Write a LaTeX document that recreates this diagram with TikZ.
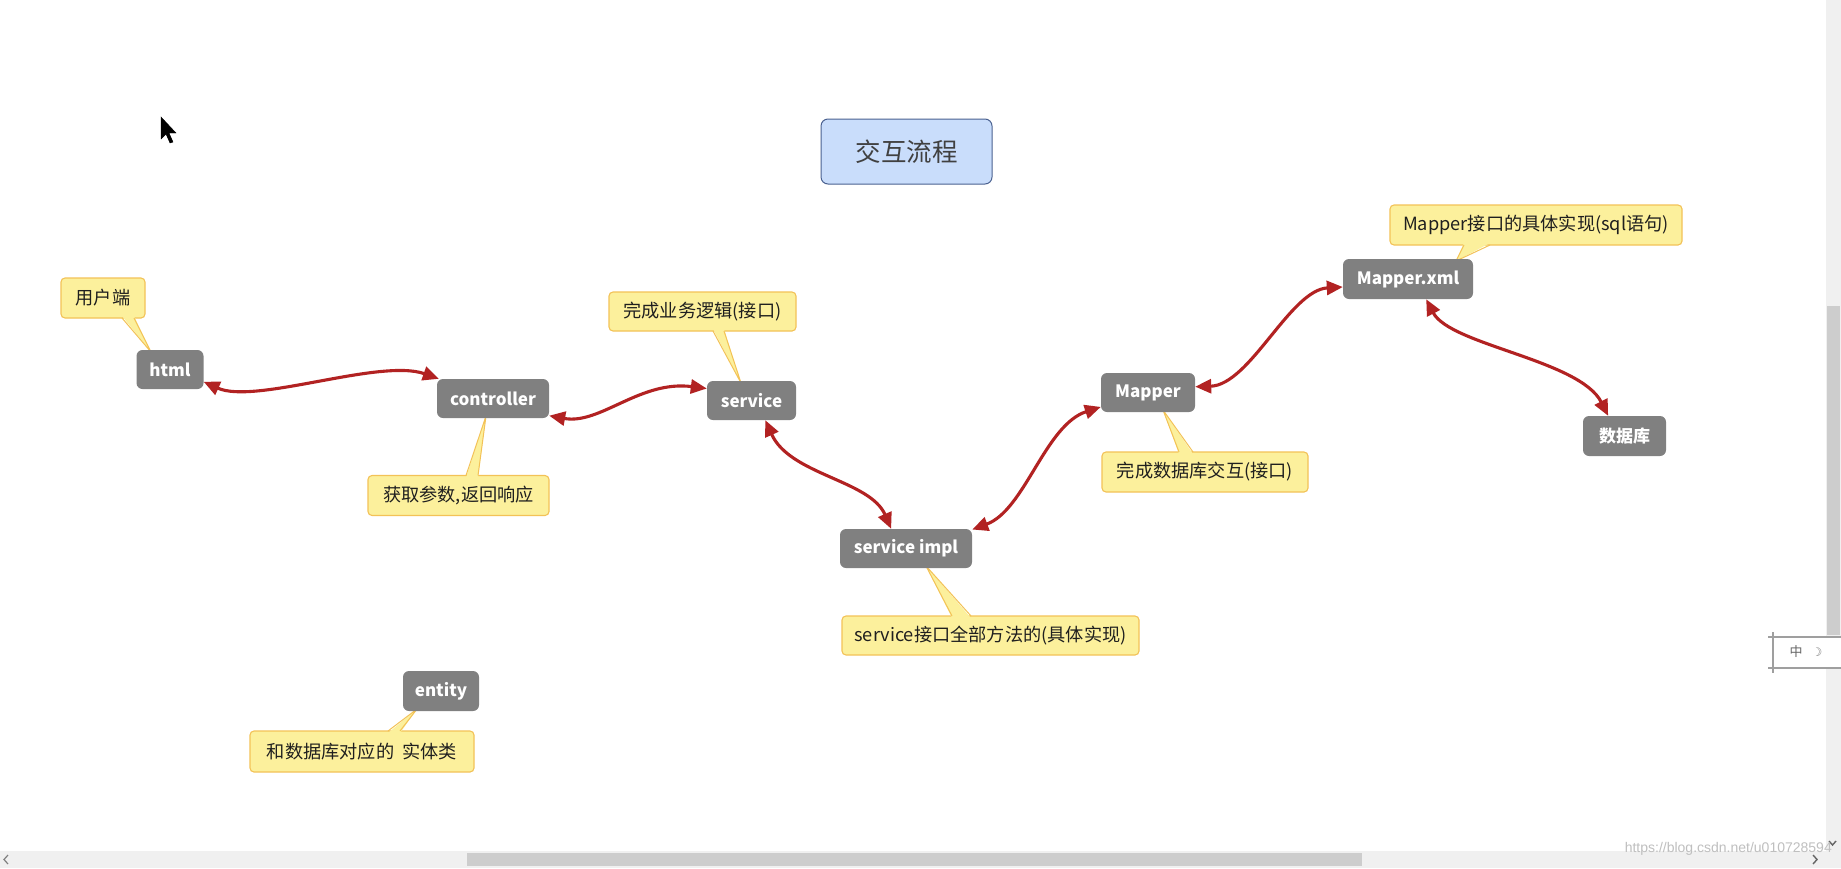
\documentclass[tikz,border=0pt]{standalone}
\usepackage{fontspec}
\setmainfont{Noto Sans CJK SC}
\newfontfamily\djv{DejaVu Sans}
\newfontfamily\libsans{Liberation Sans}
\usetikzlibrary{arrows.meta}
\definecolor{nodegray}{HTML}{808080}
\definecolor{calfill}{HTML}{FCF09C}
\definecolor{calborder}{HTML}{F3C257}
\definecolor{titlefill}{HTML}{C9DDFB}
\definecolor{titleborder}{HTML}{4A6190}
\definecolor{linkred}{HTML}{B22222}
\definecolor{track}{HTML}{F0F0F0}
\definecolor{thumb}{HTML}{CDCDCD}
\begin{document}
\begin{tikzpicture}[x=1pt,y=-1pt,
  gbox/.style={rectangle, rounded corners=6pt, fill=nodegray, text=white,
    font=\bfseries\fontsize{17}{20}\selectfont, minimum height=39pt, inner sep=0pt},
  callout/.style={rectangle, rounded corners=4pt, fill=calfill, draw=calborder,
    line width=1.1pt, minimum height=40pt, inner sep=0pt,
    font=\fontsize{18.2}{21}\selectfont, text=black!88},
  ptrline/.style={draw=calborder, line width=1pt},
  link/.style={draw=linkred, line width=3.1pt,
    {Triangle[length=16pt,width=14pt]}-{Triangle[length=16pt,width=14pt]}}
]
\useasboundingbox (0,0) rectangle (1841,868);
\fill[white] (0,0) rectangle (1841,868);

% title
\node[rectangle, rounded corners=7pt, fill=titlefill, draw=titleborder, line width=1pt,
  minimum width=171pt, minimum height=65pt, font=\fontsize{25.5}{29}\selectfont,
  text=black!75] (title) at (906.5,151.5) {交互流程};

% callouts
\node[callout, minimum width=84pt] (c1) at (103,298) {用户端};
\node[callout, minimum width=181pt] (c2) at (458.5,495.5) {获取参数,返回响应};
\node[callout, minimum width=187pt, minimum height=39pt] (c3) at (702.5,311.5) {完成业务逻辑(接口)};
\node[callout, minimum width=297pt, minimum height=39pt] (c4) at (990.5,635.5) {service接口全部方法的(具体实现)};
\node[callout, minimum width=206pt] (c5) at (1205,472) {完成数据库交互(接口)};
\node[callout, minimum width=292pt] (c6) at (1536,225) {Mapper接口的具体实现(sql语句)};
\node[callout, minimum width=224pt, minimum height=41pt] (c7) at (362,751.5) {和数据库对应的\ \ 实体类};

% callout pointers
\fill[calfill] (122,316) -- (151,352) -- (134,316) -- cycle;
\draw[ptrline] (122,318) -- (151,352) -- (134,318);
\fill[calfill] (466,477.5) -- (486,416) -- (478,477.5) -- cycle;
\draw[ptrline] (466,475.5) -- (486,416) -- (478,475.5);
\fill[calfill] (713,329) -- (741,383) -- (724,329) -- cycle;
\draw[ptrline] (713,331) -- (741,383) -- (724,331);
\fill[calfill] (952,618) -- (926,566) -- (971,618) -- cycle;
\draw[ptrline] (952,616) -- (926,566) -- (971,616);
\fill[calfill] (1179,454) -- (1163,410) -- (1193,454) -- cycle;
\draw[ptrline] (1179,452) -- (1163,410) -- (1193,452);
\fill[calfill] (1464,243) -- (1456,261) -- (1490,243) -- cycle;
\draw[ptrline] (1464,245) -- (1456,261) -- (1490,245);
\fill[calfill] (388,733) -- (417,709) -- (400,733) -- cycle;
\draw[ptrline] (388,731) -- (417,709) -- (400,731);

% gray nodes
\node[gbox, minimum width=67pt] (html) at (170,369.5) {html};
\node[gbox, minimum width=112pt] (controller) at (493,398.5) {controller};
\node[gbox, minimum width=89pt] (service) at (751.5,400.5) {service};
\node[gbox, minimum width=132pt] (simpl) at (906,548.5) {service impl};
\node[gbox, minimum width=94pt] (mapper) at (1148,392.5) {Mapper};
\node[gbox, minimum width=130pt, minimum height=40pt] (mxml) at (1408,279) {Mapper.xml};
\node[gbox, minimum width=83pt, minimum height=40pt] (db) at (1624.5,436) {数据库};
\node[gbox, minimum width=76pt, minimum height=40pt] (entity) at (441,691) {entity};

% connectors
\draw[link] (html.-20) .. controls (255,405) and (380,358) .. (controller.160);
\draw[link] (controller.-17) .. controls (600,425) and (640,380) .. (service.165);
\draw[link] (service.-55) .. controls (790,475) and (870,480) .. (simpl.127);
\draw[link] (simpl.16) .. controls (1025,510) and (1045,425) .. (mapper.197);
\draw[link] (mapper.7) .. controls (1250,385) and (1290,290) .. (mxml.187);
\draw[link] (mxml.-48) .. controls (1450,345) and (1580,360) .. (db.129);

% mouse cursor
\filldraw[black, line width=0.4pt] (161,117) -- (161,139) -- (166,134) -- (170,143) -- (173,142) -- (169,133) -- (176,133) -- cycle;

% scrollbars
\fill[track] (0,851) rectangle (1826,868);
\fill[thumb] (467,853) rectangle (1362,866);
\fill[track] (1826,0) rectangle (1841,868);
\fill[thumb] (1827,306) rectangle (1840,635);
\draw[gray, line width=1.2pt] (8,855) -- (4,859.5) -- (8,864);
\draw[gray!80!black, line width=1.4pt] (1813,855) -- (1817,859.5) -- (1813,864);
\draw[gray!80!black, line width=1.4pt] (1829,841) -- (1832.5,845) -- (1836,841);

% IME toolbar
\fill[white] (1772,637) rectangle (1841,669);
\draw[gray!75, line width=1.3pt] (1768,637) -- (1841,637);
\draw[gray!75, line width=1.3pt] (1768,668) -- (1841,668);
\draw[gray!75, line width=1.3pt] (1773,632) -- (1773,673);
\node[font=\fontsize{13}{13}\selectfont, text=gray!80!black, inner sep=0pt] (ime1) at (1796,652) {中};
\node[font=\djv\fontsize{12}{12}\selectfont, text=gray, inner sep=0pt] (ime2) at (1817,652) {☽};

% watermark
\node[anchor=east, font=\libsans\fontsize{14}{14}\selectfont, text=gray!50, inner sep=0pt] (wm) at (1832,849) {https://blog.csdn.net/u010728594};
\end{tikzpicture}
\end{document}
